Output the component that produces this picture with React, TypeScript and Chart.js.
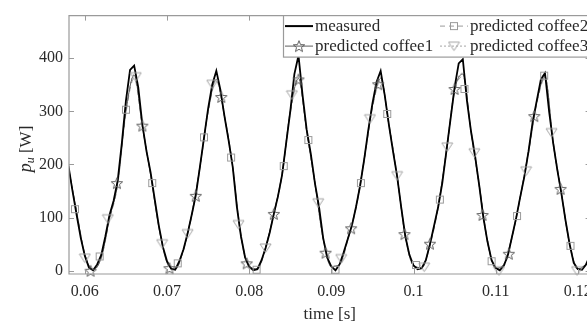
import React, { useEffect, useRef } from 'react';
import { Chart, registerables } from 'chart.js';

Chart.register(...registerables);

// ---------- data ----------
const measuredT = [
  0.0580, 0.0585, 0.0590, 0.0595, 0.0600, 0.0605, 0.0610, 0.0615, 0.0620, 0.0625,
  0.0630, 0.0635, 0.0640, 0.0645, 0.0650, 0.0655, 0.0660, 0.0665, 0.0670, 0.0675,
  0.0680, 0.0685, 0.0690, 0.0695, 0.0700, 0.0705, 0.0710, 0.0715, 0.0720, 0.0725,
  0.0730, 0.0735, 0.0740, 0.0745, 0.0750, 0.0755, 0.0760, 0.0765, 0.0770, 0.0775,
  0.0780, 0.0785, 0.0790, 0.0795, 0.0800, 0.0805, 0.0810, 0.0815, 0.0820, 0.0825,
  0.0830, 0.0835, 0.0840, 0.0845, 0.0850, 0.0855, 0.0860, 0.0865, 0.0870, 0.0875,
  0.0880, 0.0885, 0.0890, 0.0895, 0.0900, 0.0905, 0.0910, 0.0915, 0.0920, 0.0925,
  0.0930, 0.0935, 0.0940, 0.0945, 0.0950, 0.0955, 0.0960, 0.0965, 0.0970, 0.0975,
  0.0980, 0.0985, 0.0990, 0.0995, 0.1000, 0.1005, 0.1010, 0.1015, 0.1020, 0.1025,
  0.1030, 0.1035, 0.1040, 0.1045, 0.1050, 0.1055, 0.1060, 0.1065, 0.1070, 0.1075,
  0.1080, 0.1085, 0.1090, 0.1095, 0.1100, 0.1105, 0.1110, 0.1115, 0.1120, 0.1125,
  0.1130, 0.1135, 0.1140, 0.1145, 0.1150, 0.1155, 0.1160, 0.1165, 0.1170, 0.1175,
  0.1180, 0.1185, 0.1190, 0.1195, 0.1200, 0.1205, 0.1210, 0.1215,
];
const measuredP = [
  198, 150, 105, 62, 28, 6, 1, 12, 30, 65,
  105, 132, 170, 240, 320, 378, 386, 345, 275, 225,
  185, 135, 85, 45, 18, 4, 2, 18, 40, 70,
  105, 142, 195, 250, 305, 350, 376, 340, 290, 245,
  195, 120, 65, 25, 8, 1, 3, 20, 43, 72,
  107, 140, 180, 240, 300, 370, 405, 330, 265, 220,
  165, 120, 62, 25, 8, 1, 12, 35, 60, 85,
  120, 160, 210, 265, 315, 355, 376, 330, 275, 225,
  178, 120, 65, 30, 10, 3, 5, 20, 50, 85,
  120, 165, 225, 285, 345, 390, 398, 320, 262, 215,
  160, 100, 55, 20, 5, 1, 10, 30, 65, 100,
  140, 178, 225, 280, 320, 360, 372, 300, 240, 190,
  145, 95, 50, 15, 3, 2, 12, 30,
];

const predT = [
  0.058, 0.059, 0.060, 0.061, 0.062, 0.063, 0.064, 0.065, 0.066, 0.067,
  0.068, 0.069, 0.070, 0.071, 0.072, 0.073, 0.074, 0.075, 0.076, 0.077,
  0.078, 0.079, 0.080, 0.081, 0.082, 0.083, 0.084, 0.085, 0.086, 0.087,
  0.088, 0.089, 0.090, 0.091, 0.092, 0.093, 0.094, 0.095, 0.096, 0.097,
  0.098, 0.099, 0.100, 0.101, 0.102, 0.103, 0.104, 0.105, 0.106, 0.107,
  0.108, 0.109, 0.110, 0.111, 0.112, 0.113, 0.114, 0.115, 0.116, 0.117,
  0.118, 0.119, 0.120, 0.121,
];
const coffee1P = [
  195, 110, 30, 2, 25, 98, 165, 300, 368, 272,
  180, 82, 15, 3, 40, 105, 195, 300, 360, 290,
  195, 65, 8, 4, 45, 108, 182, 300, 362, 262,
  165, 60, 8, 12, 60, 120, 210, 310, 362, 275,
  178, 65, 10, 6, 50, 122, 225, 340, 370, 262,
  160, 55, 5, 12, 65, 140, 225, 318, 365, 240,
  145, 50, 3, 12,
];
const coffee2P = [
  192, 112, 32, 3, 24, 95, 162, 296, 362, 270,
  182, 85, 17, 4, 38, 102, 192, 298, 356, 292,
  198, 68, 9, 3, 42, 105, 178, 296, 358, 265,
  168, 63, 9, 10, 57, 117, 206, 306, 358, 278,
  181, 68, 12, 5, 47, 118, 220, 336, 366, 265,
  163, 58, 6, 10, 62, 137, 221, 314, 362, 244,
  148, 53, 4, 10,
];
const coffee3P = [
  196, 108, 29, 1, 26, 100, 167, 302, 370, 275,
  183, 84, 16, 2, 41, 107, 197, 302, 362, 288,
  193, 63, 7, 3, 44, 109, 183, 302, 364, 260,
  163, 59, 7, 13, 61, 121, 212, 312, 364, 273,
  176, 63, 9, 6, 51, 123, 227, 342, 372, 260,
  158, 53, 4, 13, 66, 141, 227, 320, 367, 238,
  143, 48, 2, 13,
];

// marker positions
const coffee1MarkT = [0.0607, 0.0639, 0.0670, 0.0703, 0.0735, 0.0766, 0.0797, 0.0830, 0.0860, 0.0893, 0.0924, 0.0957, 0.0989, 0.1020, 0.1050, 0.1084, 0.1116, 0.1147, 0.1179];
const coffee1MarkP = [0, 165, 273, 5, 141, 327, 14, 107, 360, 34, 80, 351, 69, 51, 342, 105, 32, 291, 154];
const coffee2MarkT = [0.0588, 0.0618, 0.0650, 0.0682, 0.0713, 0.0745, 0.0778, 0.0809, 0.0842, 0.0872, 0.0905, 0.0936, 0.0968, 0.1003, 0.1032, 0.1062, 0.1095, 0.1126, 0.1159, 0.1191];
const coffee2MarkP = [116, 27, 303, 165, 14, 251, 213, 2, 197, 246, 2, 165, 295, 11, 134, 342, 18, 103, 367, 47];
const coffee3MarkT = [0.0600, 0.0628, 0.0662, 0.0694, 0.0725, 0.0755, 0.0787, 0.0820, 0.0852, 0.0884, 0.0912, 0.0947, 0.0980, 0.1013, 0.1041, 0.1074, 0.1104, 0.1137, 0.1168, 0.1199];
const coffee3MarkP = [24, 98, 365, 51, 70, 351, 87, 43, 331, 128, 23, 286, 179, 7, 233, 222, 0, 188, 260, 0];

const xTickVals = [0.06, 0.07, 0.08, 0.09, 0.1, 0.11, 0.12];
const xTickLabels = ['0.06', '0.07', '0.08', '0.09', '0.1', '0.11', '0.12'];
const yTickVals = [0, 100, 200, 300, 400];
const yTickLabels = ['0', '100', '200', '300', '400'];

const seriesLabels = ['measured', 'predicted coffee1', 'predicted coffee2', 'predicted coffee3'];

// ---------- style ----------
const FAM = "'Liberation Serif', 'Times New Roman', serif";
const AXIS_COLOR = '#9a9a9a';
const TEXT_COLOR = '#2a2a2a';
const C1 = '#5e5e5e';
const C2 = '#9a9a9a';
const C3 = '#a4a4a4';

function makeStar(color: string) {
  const c = document.createElement('canvas');
  c.width = 14; c.height = 14;
  const g = c.getContext('2d')!;
  g.strokeStyle = color; g.lineWidth = 1;
  g.beginPath();
  for (let k = 0; k < 10; k++) {
    const r = k % 2 === 0 ? 6 : 2.6;
    const a = -Math.PI / 2 + (k * Math.PI) / 5;
    const px = 7 + r * Math.cos(a);
    const py = 7.6 + r * Math.sin(a);
    if (k === 0) g.moveTo(px, py); else g.lineTo(px, py);
  }
  g.closePath(); g.stroke();
  return c;
}
function makeSquare(color: string) {
  const c = document.createElement('canvas');
  c.width = 10; c.height = 10;
  const g = c.getContext('2d')!;
  g.strokeStyle = color; g.lineWidth = 1;
  g.strokeRect(1.5, 1.5, 7, 7);
  return c;
}
function makeTri(color: string) {
  const c = document.createElement('canvas');
  c.width = 13; c.height = 12;
  const g = c.getContext('2d')!;
  g.strokeStyle = color; g.lineWidth = 1;
  g.beginPath();
  g.moveTo(1, 2); g.lineTo(12, 2); g.lineTo(6.5, 10.5); g.closePath();
  g.stroke();
  return c;
}

export default function App() {
  const ref = useRef<HTMLCanvasElement | null>(null);

  useEffect(() => {
    if (!ref.current) return;
    const star = makeStar(C1);
    const sq = makeSquare(C2);
    const tri = makeTri(C3);

    const decor = {
      id: 'decor',
      afterDatasetsDraw(chart: any) {
        const { ctx, chartArea } = chart;
        const xs = chart.scales.x;
        const ys = chart.scales.y;
        const { left, right, top, bottom } = chartArea;
        ctx.save();
        ctx.strokeStyle = AXIS_COLOR;
        ctx.lineWidth = 1.2;
        ctx.beginPath();
        ctx.moveTo(left, top); ctx.lineTo(right, top); ctx.lineTo(right, bottom);
        ctx.lineTo(left, bottom); ctx.closePath();
        ctx.stroke();
        ctx.lineWidth = 1;
        ctx.beginPath();
        xTickVals.forEach((v) => {
          const px = Math.round(xs.getPixelForValue(v)) + 0.5;
          ctx.moveTo(px, bottom); ctx.lineTo(px, bottom - 5);
          ctx.moveTo(px, top); ctx.lineTo(px, top + 5);
        });
        yTickVals.forEach((v) => {
          const py = Math.round(ys.getPixelForValue(v)) + 0.5;
          ctx.moveTo(left, py); ctx.lineTo(left + 5, py);
          ctx.moveTo(right, py); ctx.lineTo(right - 5, py);
        });
        ctx.stroke();
        ctx.restore();
      },
      afterDraw(chart: any) {
        const { ctx } = chart;
        ctx.save();
        // y title: p_u [W]
        ctx.translate(26, 149);
        ctx.rotate(-Math.PI / 2);
        ctx.fillStyle = TEXT_COLOR;
        ctx.textBaseline = 'alphabetic';
        ctx.textAlign = 'left';
        const f1 = `italic 18px ${FAM}`;
        const f2 = `italic 12px ${FAM}`;
        const f3 = `17px ${FAM}`;
        ctx.font = f1; const w1 = ctx.measureText('p').width;
        ctx.font = f2; const w2 = ctx.measureText('u').width;
        ctx.font = f3; const w3 = ctx.measureText(' [W]').width;
        let x = -(w1 + w2 + w3) / 2;
        const base = 5;
        ctx.font = f1; ctx.fillText('p', x, base); x += w1;
        ctx.font = f2; ctx.fillText('u', x, base + 3); x += w2;
        ctx.font = f3; ctx.fillText(' [W]', x, base);
        ctx.restore();

        // legend
        ctx.save();
        const bx = 283, by = chart.chartArea.top, bw = 310, bh = 41.5;
        ctx.fillStyle = '#ffffff';
        ctx.fillRect(bx, by, bw, bh);
        ctx.strokeStyle = AXIS_COLOR;
        ctx.lineWidth = 1.2;
        ctx.strokeRect(bx + 0.5, by, bw, bh);
        const rows = [by + 10.5, by + 30.5];
        const items = [
          { col: 0, row: 0, color: '#000', width: 2, dash: [] as number[], img: null as any, label: seriesLabels[0] },
          { col: 0, row: 1, color: C1, width: 1, dash: [] as number[], img: star, label: seriesLabels[1] },
          { col: 1, row: 0, color: C2, width: 1, dash: [5, 4], img: sq, label: seriesLabels[2] },
          { col: 1, row: 1, color: C3, width: 1, dash: [2, 2], img: tri, label: seriesLabels[3] },
        ];
        const cols = [{ x0: 285, x1: 313, tx: 315 }, { x0: 440, x1: 468, tx: 470 }];
        items.forEach((it) => {
          const c = cols[it.col];
          const y = rows[it.row];
          ctx.strokeStyle = it.color;
          ctx.lineWidth = it.width;
          ctx.setLineDash(it.dash);
          ctx.beginPath(); ctx.moveTo(c.x0, y); ctx.lineTo(c.x1, y); ctx.stroke();
          ctx.setLineDash([]);
          if (it.img) {
            const cx = (c.x0 + c.x1) / 2;
            ctx.drawImage(it.img, cx - it.img.width / 2, y - it.img.height / 2);
          }
          ctx.fillStyle = TEXT_COLOR;
          ctx.font = `17px ${FAM}`;
          ctx.textBaseline = 'middle';
          ctx.textAlign = 'left';
          ctx.fillText(it.label, c.tx, y);
        });
        ctx.restore();
      },
    };

    const pts = (xs: number[], ys: number[]) => xs.map((x, i) => ({ x, y: ys[i] }));

    const chart = new Chart(ref.current, {
      type: 'line',
      data: {
        datasets: [
          { label: seriesLabels[1] + ' markers', data: pts(coffee1MarkT, coffee1MarkP), showLine: false, pointStyle: star as any, pointRadius: 5, borderColor: C1, backgroundColor: 'transparent', order: 0, clip: false as any },
          { label: seriesLabels[2] + ' markers', data: pts(coffee2MarkT, coffee2MarkP), showLine: false, pointStyle: sq as any, pointRadius: 5, borderColor: C2, backgroundColor: 'transparent', order: 0, clip: false as any },
          { label: seriesLabels[3] + ' markers', data: pts(coffee3MarkT, coffee3MarkP), showLine: false, pointStyle: tri as any, pointRadius: 5, borderColor: C3, backgroundColor: 'transparent', order: 0, clip: false as any },
          { label: seriesLabels[0], data: pts(measuredT, measuredP), borderColor: '#000', borderWidth: 1.8, pointRadius: 0, tension: 0, order: 1 },
          { label: seriesLabels[1], data: pts(predT, coffee1P), borderColor: C1, borderWidth: 1, pointRadius: 0, cubicInterpolationMode: 'monotone', order: 2 },
          { label: seriesLabels[2], data: pts(predT, coffee2P), borderColor: C2, borderWidth: 1, borderDash: [5, 4], pointRadius: 0, cubicInterpolationMode: 'monotone', order: 2 },
          { label: seriesLabels[3], data: pts(predT, coffee3P), borderColor: C3, borderWidth: 1, borderDash: [2, 2], pointRadius: 0, cubicInterpolationMode: 'monotone', order: 2 },
        ],
      },
      options: {
        responsive: false,
        animation: false,
        devicePixelRatio: 1,
        events: [],
        layout: { padding: { top: 6, right: 6, left: 0, bottom: 0 } },
        plugins: { legend: { display: false }, tooltip: { enabled: false } },
        scales: {
          x: {
            type: 'linear',
            min: 0.05807,
            max: 0.12155,
            afterBuildTicks: (s: any) => { s.ticks = xTickVals.map((v) => ({ value: v })); },
            afterFit: (s: any) => { s.height = 54; },
            grid: { display: false, drawTicks: false },
            border: { display: false },
            ticks: {
              autoSkip: false, maxRotation: 0, padding: 8, color: TEXT_COLOR,
              font: { family: FAM, size: 16 },
              callback: (_v: any, i: number) => xTickLabels[i],
            },
            title: { display: true, text: 'time [s]', color: TEXT_COLOR, font: { family: FAM, size: 17 }, padding: { top: 0, bottom: 3 } },
          },
          y: {
            type: 'linear',
            min: -6,
            max: 480,
            afterBuildTicks: (s: any) => { s.ticks = yTickVals.map((v) => ({ value: v })); },
            afterFit: (s: any) => { s.width = 69; },
            grid: { display: false, drawTicks: false },
            border: { display: false },
            ticks: {
              autoSkip: false, padding: 6, color: TEXT_COLOR,
              font: { family: FAM, size: 16 },
              callback: (_v: any, i: number) => yTickLabels[i],
            },
          },
        },
      } as any,
      plugins: [decor],
    });
    return () => chart.destroy();
  }, []);

  return (
    <div style={{ position: 'fixed', left: 0, top: 0, width: 587, height: 328, overflow: 'hidden', background: '#fff' }}>
      <canvas ref={ref} width={600} height={328} style={{ display: 'block', width: 600, height: 328 }} />
    </div>
  );
}
